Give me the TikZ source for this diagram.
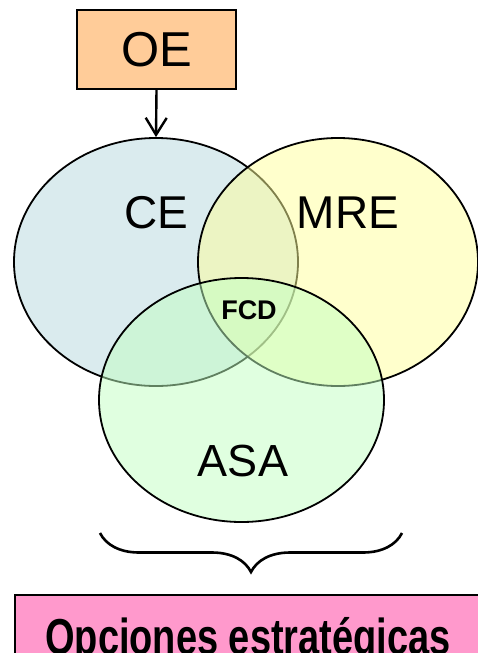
\documentclass[tikz,border=0pt]{standalone}
\usepackage{fontspec}
\setmainfont{Liberation Sans}
\usepackage{xcolor}
\usetikzlibrary{arrows.meta,shapes.geometric,decorations.pathreplacing}

\definecolor{oeorange}{HTML}{FFCC99}
\definecolor{ceblue}{HTML}{B5D7DD}
\definecolor{mreyellow}{HTML}{FFFF99}
\definecolor{asagreen}{HTML}{C1FFC1}
\definecolor{optpink}{HTML}{FF99CC}

\begin{document}
\begin{tikzpicture}[
    x=1pt,
    y=-1pt,
    topbox/.style={
        rectangle,
        draw,
        line width=1.8pt,
        fill=oeorange,
        minimum width=159pt,
        minimum height=79pt,
        inner sep=0pt,
        font=\fontsize{49}{50}\selectfont
    },
    set/.style={
        ellipse,
        draw,
        line width=1.8pt,
        fill opacity=0.5,
        inner sep=0pt,
        minimum width=284pt,
        minimum height=248pt
    },
    setlabel/.style={
        font=\fontsize{46}{48}\selectfont,
        inner sep=0pt
    },
    arrow/.style={
        -{Straight Barb[length=17pt,width=21pt]},
        line width=2.4pt,
        black
    },
    optbox/.style={
        rectangle,
        draw,
        line width=1.8pt,
        fill=optpink,
        anchor=north west,
        minimum width=500pt,
        minimum height=90pt
    }
]
    \useasboundingbox (0,0) rectangle (478,653);
    \clip (0,0) rectangle (478,653);
    % top box and the three sets
    \node[topbox] (oe) at (156.5,49.5) {OE};
    \node[set, fill=ceblue] (ce) at (156,262) {};
    \node[set, fill=mreyellow, minimum width=280pt] (mre) at (338,262) {};
    \node[set, fill=asagreen, minimum width=285pt, minimum height=244pt] (asa) at (241.5,400) {};
    \node[setlabel] (celabel) at (156,213) {CE};
    \node[setlabel] (mrelabel) at (348,213) {MRE};
    \node[setlabel, font=\fontsize{45}{47}\selectfont] (asalabel) at (243,461) {ASA};
    \node[setlabel, font=\bfseries\fontsize{27}{29}\selectfont] (fcd) at (249,310) {FCD};
    \draw[arrow] (oe.south) -- (ce.north);
    % brace and result box
    \coordinate (braceright) at (402,533);
    \coordinate (braceleft) at (100,533);
    \draw[line width=2.6pt, decorate, decoration={brace, amplitude=39pt}] (braceright) -- (braceleft);
    \node[optbox] (opt) at (14,594) {};
    \node[anchor=base, font=\bfseries\fontsize{38}{40}\selectfont, inner sep=0pt, yscale=1.33] (optlabel) at (248,654) {Opciones estratégicas};
\end{tikzpicture}
\end{document}
